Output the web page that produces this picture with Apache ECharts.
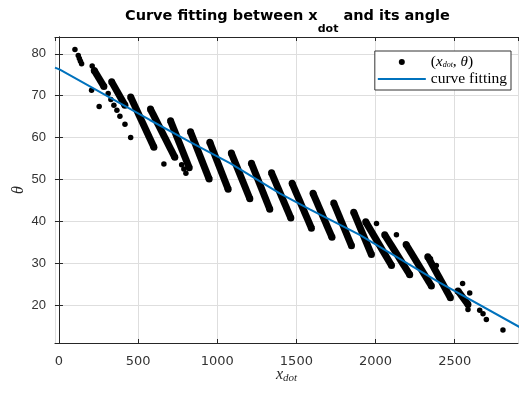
<!DOCTYPE html>
<html>
<head>
<meta charset="utf-8">
<script src="https://cdn.jsdelivr.net/npm/echarts@6/dist/echarts.min.js"></script>
<style>
  html, body { margin: 0; padding: 0; background: #fff; }
  #chart { width: 520px; height: 395px; }
</style>
</head>
<body>
<div id="chart"></div>
<script>
// fitted curve
const fitX = [-25, 6, 574, 827, 1080, 1395, 1585, 1900, 2090, 2405, 2910];
const fitY = [76.7, 76.2, 64.2, 59.0, 53.9, 46.7, 42.9, 36.8, 32.5, 25.4, 14.8];

// dense diagonal runs of points: start (top) and end (bottom) of each run
const runX1 = [223, 333, 453, 578, 705, 831, 953, 1089, 1216, 1343, 1473, 1605, 1736, 1862, 1938, 2058, 2193, 2330, 2521];
const runY1 = [76.0, 73.3, 69.7, 66.8, 64.0, 61.4, 58.9, 56.3, 53.9, 51.6, 49.1, 46.7, 44.4, 42.2, 39.9, 36.8, 34.5, 31.6, 23.4];
const runX2 = [284, 417, 600, 732, 823, 949, 1069, 1206, 1332, 1465, 1595, 1725, 1848, 1974, 2101, 2216, 2353, 2473, 2584];
const runY2 = [72.2, 67.7, 57.7, 55.3, 52.8, 50.1, 47.7, 45.4, 42.9, 40.8, 38.4, 36.2, 34.2, 32.1, 29.5, 27.3, 24.6, 21.8, 20.2];

// single points outside the runs
const dotX = [101, 122, 129, 136, 143, 210, 206, 254, 311, 328, 347, 366, 385, 417, 453, 663, 775, 789, 802,
              2006, 2132, 2347, 2384, 2550, 2595, 2584, 2658, 2679, 2700, 2805];
const dotY = [81.0, 79.6, 78.9, 78.2, 77.6, 77.1, 71.3, 67.4, 70.5, 69.1, 67.7, 66.5, 65.1, 63.2, 60.0, 53.7, 53.5, 52.5, 51.5,
              39.5, 36.8, 31.1, 29.5, 25.2, 22.9, 19.0, 18.8, 18.0, 16.6, 14.1];

const chart = echarts.init(document.getElementById('chart'));

const axisColor = '#262626';
const gridColor = '#dedede';
const fitColor = '#0072BD';
const SCATTER = 'pts';
const FIT = 'curve fitting';

const runSeries = runX1.map((x, i) => ({
    type: 'line',
    name: 'run' + i,
    data: [[x, runY1[i]], [runX2[i], runY2[i]]],
    symbol: 'circle',
    symbolSize: 7,
    showSymbol: true,
    itemStyle: {color: '#000', opacity: 1},
    lineStyle: {color: '#000', width: 7},
    silent: true,
    z: 2
}));

const option = {
    animation: false,
    title: {
        text: '{a|Curve fitting between x}{s|dot}{a| and its angle}',
        left: 125,
        top: 9,
        padding: 0,
        textStyle: {
            rich: {
                a: {fontFamily: 'DejaVu Sans', fontSize: 14.5, fontWeight: 'bold', color: '#000', verticalAlign: 'top', lineHeight: 16},
                s: {fontFamily: 'DejaVu Sans', fontSize: 11, fontWeight: 'bold', color: '#000', verticalAlign: 'top', lineHeight: 13, padding: [15, 0, 0, 0]}
            }
        }
    },
    legend: {
        data: [
            {name: SCATTER},
            {name: FIT, icon: 'path://M0,0L48,0L48,2L0,2Z'}
        ],
        orient: 'vertical',
        right: 9,
        top: 51,
        itemWidth: 48,
        itemHeight: 6,
        itemGap: 1,
        padding: [3, 4, 3, 3],
        borderColor: '#333',
        borderWidth: 1,
        backgroundColor: '#fff',
        formatter: function (name) {
            if (name === SCATTER) return '{n|(}{i|x}{s|dot}{n|, }{i|θ}{n|)}';
            return '{n|' + name + '}';
        },
        textStyle: {
            fontFamily: 'Liberation Serif',
            fontSize: 15.5,
            color: '#000',
            rich: {
                n: {fontFamily: 'Liberation Serif', fontSize: 15.5, color: '#000', lineHeight: 16},
                i: {fontFamily: 'Liberation Serif', fontSize: 15, fontStyle: 'italic', color: '#000', lineHeight: 16},
                s: {fontFamily: 'Liberation Serif', fontSize: 8, fontStyle: 'italic', color: '#000', lineHeight: 16, padding: [5, 0, 0, 0]}
            }
        }
    },
    grid: {left: 55, right: 2, top: 37, bottom: 52, containLabel: false, outerBoundsMode: 'none'},
    xAxis: [{
        type: 'value',
        min: -25,
        max: 2900,
        name: '{i|x}{s|dot}',
        nameLocation: 'middle',
        nameGap: 23,
        nameMoveOverlap: false,
        nameTextStyle: {
            rich: {
                i: {fontFamily: 'Liberation Serif', fontSize: 16, fontStyle: 'italic', color: '#262626', lineHeight: 18},
                s: {fontFamily: 'Liberation Serif', fontSize: 11, fontStyle: 'italic', color: '#262626', lineHeight: 18, padding: [7, 0, 0, 0]}
            }
        },
        axisLine: {show: true, lineStyle: {color: axisColor, width: 1}},
        axisTick: {show: true, inside: true, length: 4, lineStyle: {color: axisColor}},
        axisLabel: {
            showMinLabel: false, showMaxLabel: false, margin: 12,
            color: '#333', fontFamily: 'DejaVu Sans', fontSize: 13,
            formatter: function (v) { return String(v); }
        },
        splitLine: {show: true, lineStyle: {color: gridColor, width: 1}}
    }, {
        type: 'value',
        position: 'top',
        min: -25,
        max: 2900,
        axisLine: {show: true, lineStyle: {color: axisColor, width: 1}},
        axisTick: {show: true, inside: true, length: 4, lineStyle: {color: axisColor}},
        axisLabel: {show: false},
        splitLine: {show: false}
    }],
    yAxis: [{
        type: 'value',
        min: 11,
        max: 84,
        name: 'θ',
        nameLocation: 'middle',
        nameGap: 28,
        nameMoveOverlap: false,
        nameTextStyle: {fontFamily: 'Liberation Serif', fontSize: 16, fontStyle: 'italic', color: '#262626'},
        axisLine: {show: true, lineStyle: {color: axisColor, width: 1}},
        axisTick: {show: true, inside: true, length: 4, lineStyle: {color: axisColor}},
        axisLabel: {showMinLabel: false, showMaxLabel: false, margin: 9, color: '#333', fontFamily: 'Liberation Sans', fontSize: 13},
        splitLine: {show: true, lineStyle: {color: gridColor, width: 1}}
    }, {
        type: 'value',
        position: 'right',
        min: 11,
        max: 84,
        axisLine: {show: true, lineStyle: {color: axisColor, width: 1}},
        axisTick: {show: true, inside: true, length: 4, lineStyle: {color: axisColor}},
        axisLabel: {show: false},
        splitLine: {show: false}
    }],
    series: runSeries.concat([
        {
            type: 'scatter',
            name: SCATTER,
            data: dotX.map((x, i) => [x, dotY[i]]),
            symbol: 'circle',
            symbolSize: 5.5,
            itemStyle: {color: '#000', opacity: 1},
            z: 3
        },
        {
            type: 'line',
            name: FIT,
            data: fitX.map((x, i) => [x, fitY[i]]),
            symbol: 'none',
            itemStyle: {color: fitColor},
            lineStyle: {color: fitColor, width: 2},
            z: 5
        }
    ])
};

chart.setOption(option);
window.addEventListener('resize', function () {
    chart.resize();
});
</script>
</body>
</html>
